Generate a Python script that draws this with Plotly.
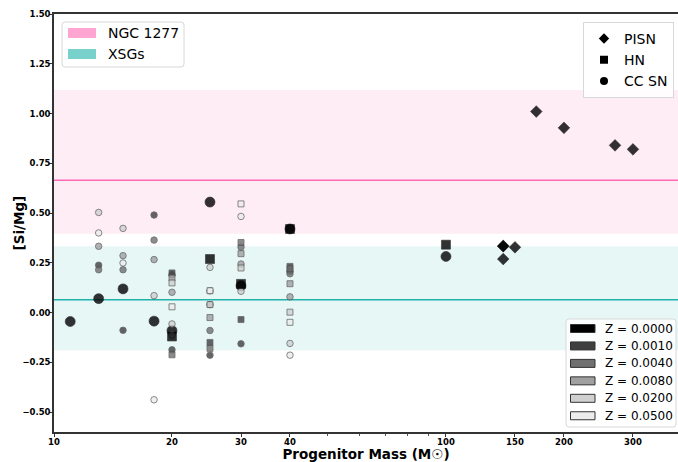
import plotly.graph_objects as go

# ---------------- data ----------------
z_values = [0.0, 0.001, 0.004, 0.008, 0.02, 0.05]
z_labels = ["Z = 0.0000", "Z = 0.0010", "Z = 0.0040", "Z = 0.0080", "Z = 0.0200", "Z = 0.0500"]
z_colors = ["#000000", "#3f3f3f", "#707070", "#a0a0a0", "#d0d0d0", "#ececec"]

# Core-collapse SNe: mass, metallicity, [Si/Mg]
cc_mass = [11,
           13, 13, 13, 13, 13, 13,
           15, 15, 15, 15, 15, 15,
           18, 18, 18, 18, 18, 18,
           20, 20, 20, 20, 20, 20,
           25, 25, 25, 25, 25, 25,
           30, 30, 30, 30, 30, 30,
           40, 40, 40, 40, 40, 40,
           100]
cc_z = [0.0,
        0.0, 0.001, 0.004, 0.008, 0.02, 0.05,
        0.0, 0.001, 0.004, 0.008, 0.02, 0.05,
        0.0, 0.001, 0.004, 0.008, 0.02, 0.05,
        0.0, 0.001, 0.004, 0.008, 0.02, 0.05,
        0.0, 0.001, 0.004, 0.008, 0.02, 0.05,
        0.0, 0.001, 0.004, 0.008, 0.02, 0.05,
        0.0, 0.001, 0.004, 0.008, 0.02, 0.05,
        0.0]
cc_simg = [-0.045,
           0.070, 0.238, 0.215, 0.333, 0.503, 0.400,
           0.119, -0.089, 0.215, 0.286, 0.423, 0.249,
           -0.043, 0.490, 0.364, 0.266, 0.085, -0.438,
           -0.090, -0.187, 0.190, 0.102, -0.057, -0.112,
           0.555, -0.214, -0.090, 0.040, 0.227, 0.109,
           0.135, -0.157, 0.329, 0.244, 0.107, 0.483,
           0.420, 0.207, 0.195, 0.079, -0.155, -0.214,
           0.282]

# Hypernovae
hn_mass = [20, 20, 20, 20, 20, 20,
           25, 25, 25, 25, 25, 25,
           30, 30, 30, 30, 30, 30,
           40, 40, 40, 40, 40, 40,
           100]
hn_z = [0.0, 0.001, 0.004, 0.008, 0.02, 0.05,
        0.0, 0.001, 0.004, 0.008, 0.02, 0.05,
        0.0, 0.001, 0.004, 0.008, 0.02, 0.05,
        0.0, 0.001, 0.004, 0.008, 0.02, 0.05,
        0.0]
hn_simg = [-0.120, 0.199, -0.212, 0.174, 0.149, 0.029,
           0.269, -0.150, -0.180, -0.025, 0.040, 0.110,
           0.144, -0.035, 0.352, 0.296, 0.224, 0.546,
           0.420, 0.232, 0.220, 0.145, 0.002, -0.049,
           0.341]

# Pair-instability SNe (Z = 0)
pisn_mass = [140, 140, 140, 150, 170, 200, 270, 300]
pisn_simg = [0.335, 0.333, 0.269, 0.328, 1.010, 0.928, 0.840, 0.820]

# Observational ranges
band_names = ["NGC 1277", "XSGs"]
band_mean = [0.665, 0.064]
band_low = [0.396, -0.189]
band_high = [1.118, 0.333]
band_line_colors = ["#ff69b4", "#20b2aa"]
band_fill_colors = ["rgba(255,105,180,0.12)", "rgba(32,178,170,0.11)"]
band_patch_colors = ["rgba(255,105,180,0.6)", "rgba(32,178,170,0.6)"]

x_tickvals = [10, 20, 30, 40, 100, 150, 200, 300]
x_minor = [50, 60, 70, 80, 90]
y_tickvals = [-0.5, -0.25, 0.0, 0.25, 0.5, 0.75, 1.0, 1.25, 1.5]
y_ticktext = ["\u22120.50", "\u22120.25", "0.00", "0.25", "0.50", "0.75", "1.00", "1.25", "1.50"]

FONT = "DejaVu Sans"
W, H = 678, 462
ML, MR, MT, MB = 54, 0, 14, 30
PW, PH = W - ML - MR, H - MT - MB


def px(xp):  # pixel -> paper x
    return (xp - ML) / PW


def py(yp):  # pixel -> paper y
    return (H - MB - yp) / PH


def rounded_box(x0, y0, x1, y1, r=3):
    rx, ry = r / PW, r / PH
    X0, X1, Y0, Y1 = px(x0), px(x1), py(y1), py(y0)
    return (f"M{X0+rx},{Y0} L{X1-rx},{Y0} Q{X1},{Y0} {X1},{Y0+ry} "
            f"L{X1},{Y1-ry} Q{X1},{Y1} {X1-rx},{Y1} L{X0+rx},{Y1} "
            f"Q{X0},{Y1} {X0},{Y1-ry} L{X0},{Y0+ry} Q{X0},{Y0} {X0+rx},{Y0} Z")


fig = go.Figure()

# ---- observational bands ----
for i in range(len(band_names)):
    fig.add_shape(type="rect", xref="paper", x0=0, x1=1, yref="y", y0=band_low[i], y1=band_high[i],
                  fillcolor=band_fill_colors[i], line_width=0, layer="below")
    fig.add_shape(type="line", xref="paper", x0=0, x1=1, yref="y", y0=band_mean[i], y1=band_mean[i],
                  line=dict(color=band_line_colors[i], width=1.5), layer="below")


def add_group(masses, zs, vals, symbol, big, small):
    for zi, zc in zip(z_values, z_colors):
        xs = [m for m, z in zip(masses, zs) if z == zi]
        ys = [v for v, z in zip(vals, zs) if z == zi]
        if not xs:
            continue
        fig.add_trace(go.Scatter(
            x=xs, y=ys, mode="markers", showlegend=False,
            marker=dict(symbol=symbol, size=big if zi == 0 else small, color=zc,
                        opacity=0.8,
                        line=dict(color="#000000" if zi == 0 else "#4a4a4a",
                                  width=0.6 if zi == 0 else 0.8))))


add_group(cc_mass, cc_z, cc_simg, "circle", 10, 6.5)
add_group(hn_mass, hn_z, hn_simg, "square", 9, 6)
fig.add_trace(go.Scatter(x=pisn_mass, y=pisn_simg, mode="markers", showlegend=False,
                         marker=dict(symbol="diamond", size=9, color="#000000", opacity=0.8,
                                     line=dict(color="#000000", width=0.5))))

# ---- symbol legend (native) ----
for name, sym in [("PISN", "diamond"), ("HN", "square"), ("CC SN", "circle")]:
    fig.add_trace(go.Scatter(x=[None], y=[None], mode="markers", name=name,
                             marker=dict(symbol=sym, size=8, color="#000000")))

shapes_extra = []
annots = []

# ---- band legend (drawn) ----
shapes_extra.append(dict(type="path", xref="paper", yref="paper", path=rounded_box(62, 22, 184, 67),
                         fillcolor="rgba(255,255,255,0.85)", line=dict(color="#d8d8d8", width=1)))
for i, name in enumerate(band_names):
    cy = 33 + 21 * i
    shapes_extra.append(dict(type="rect", xref="paper", yref="paper",
                             x0=px(68), x1=px(96), y0=py(cy + 5), y1=py(cy - 5),
                             fillcolor=band_patch_colors[i], line_width=0))
    annots.append(dict(xref="paper", yref="paper", x=px(106), y=py(cy), xanchor="left",
                       yanchor="middle", text=name, showarrow=False,
                       font=dict(size=14, family=FONT, color="#000000")))

# ---- metallicity legend (drawn) ----
shapes_extra.append(dict(type="path", xref="paper", yref="paper", path=rounded_box(566, 319, 676, 427),
                         fillcolor="rgba(255,255,255,0.85)", line=dict(color="#d8d8d8", width=1)))
for i, (lab, col) in enumerate(zip(z_labels, z_colors)):
    cy = 328.5 + 17.45 * i
    shapes_extra.append(dict(type="rect", xref="paper", yref="paper",
                             x0=px(570.5), x1=px(595), y0=py(cy + 4), y1=py(cy - 4),
                             fillcolor=col, line=dict(color="#333333", width=1)))
    annots.append(dict(xref="paper", yref="paper", x=px(603), y=py(cy), xanchor="left",
                       yanchor="middle", text=lab, showarrow=False,
                       font=dict(size=12, family=FONT, color="#000000")))

# ---- y axis title ----
annots.append(dict(xref="paper", yref="paper", x=px(18.5), y=0.5, xanchor="center",
                   yanchor="middle", text="[Si/Mg]", textangle=-90, showarrow=False,
                   font=dict(size=13.5, family=FONT, weight="bold", color="#000000")))

for s in shapes_extra:
    fig.add_shape(**s)

fig.update_layout(
    width=W, height=H,
    margin=dict(l=ML, r=MR, t=MT, b=MB),
    paper_bgcolor="white", plot_bgcolor="white",
    font=dict(family=FONT, color="#000000"),
    annotations=annots,
    showlegend=True,
    legend=dict(x=0.9936, y=0.981, xanchor="right", yanchor="top",
                font=dict(size=14, family=FONT), bgcolor="rgba(255,255,255,0.85)",
                bordercolor="#d8d8d8", borderwidth=1, tracegroupgap=0),
    xaxis=dict(type="log", range=[1, 2.592], tickvals=x_tickvals,
               ticktext=[str(v) for v in x_tickvals],
               ticks="outside", ticklen=3, tickwidth=1, tickcolor="#333333",
               ticklabelstandoff=-2,
               minor=dict(tickvals=x_minor, ticks="outside", ticklen=2, tickcolor="#555555"),
               showline=True, linecolor="#333333", linewidth=1.5, mirror=True,
               showgrid=False, zeroline=False,
               tickfont=dict(size=8.5, family=FONT, weight="bold"),
               title=dict(text="Progenitor Mass (M\u2609)", standoff=3,
                          font=dict(size=13.5, family=FONT, weight="bold"))),
    yaxis=dict(range=[-0.6, 1.5], tickvals=y_tickvals, ticktext=y_ticktext,
               ticks="outside", ticklen=3, tickwidth=1, tickcolor="#333333",
               ticklabelstandoff=-3,
               showline=True, linecolor="#333333", linewidth=1.5, mirror=False,
               showgrid=False, zeroline=False,
               tickfont=dict(size=8.5, family=FONT, weight="bold")),
)

fig.write_html("out.html")
